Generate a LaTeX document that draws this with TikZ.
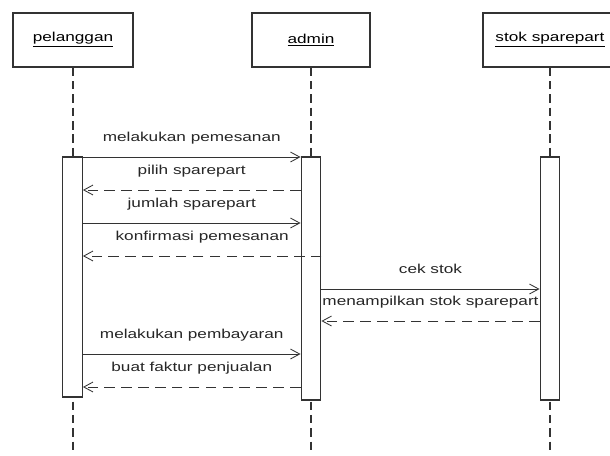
\documentclass[tikz,border=0pt]{standalone}
\usepackage{fontspec}
\setmainfont{Liberation Sans}[FakeStretch=1.33]
\usetikzlibrary{positioning,calc,arrows.meta}
\definecolor{linegray}{rgb}{0.2,0.2,0.2}

\tikzset{
	head/.style={draw=linegray, line width=0.9pt, minimum width=3cm, minimum height=1.35cm, font=\fontsize{9.2}{11}\selectfont},
	act/.style={draw=linegray, fill=white, line width=0.9pt, minimum width=0.49cm, inner sep=0pt},
	life/.style={linegray, line width=0.8pt, dash pattern=on 6pt off 3.5pt},
	msg/.style={linegray, line width=0.6pt, -{Straight Barb[length=6.5pt,width=7pt]}},
	reply/.style={msg, dash pattern=on 7.5pt off 4.5pt},
	lbl/.style={midway, anchor=base, yshift=0.4cm, inner sep=0pt, text=black!85, font=\fontsize{9.2}{11}\selectfont}
}

\begin{document}
\begin{tikzpicture}[x=0.025cm, y=-0.025cm]
	\useasboundingbox (0,0) rectangle (610,455);
	\clip (0,0) rectangle (610,455);
	
	% objek
	\node[head] (pel) at (73,40) {\underline{pelanggan}};
	\node[head, minimum width=2.95cm] (adm) at (311,40) {\underline{admin}};
	\node[head, minimum width=3.35cm] (stok) at (550,40) {\underline{stok sparepart}};
	
	% lifeline
	\draw[life] (pel.south) -- (pel.south |- 0,455);
	\draw[life] (adm.south) -- (adm.south |- 0,455);
	\draw[life] (stok.south) -- (stok.south |- 0,455);
	
	% aktivasi
	\node[act, minimum height=6cm] (actP) at (72.5,277) {};
	\node[act, minimum height=6.075cm] (actA) at (311,278.5) {};
	\node[act, minimum height=6.075cm] (actS) at (550,278.5) {};
	
	% pesan
	\draw[msg] (actP.east |- 0,157) -- node[lbl] {melakukan pemesanan} (actA.west |- 0,157);
	\draw[reply] (actA.west |- 0,190) -- node[lbl] {pilih sparepart} (actP.east |- 0,190);
	\draw[msg] (actP.east |- 0,223) -- node[lbl] {jumlah sparepart} (actA.west |- 0,223);
	\draw[reply] (actA.east |- 0,256) -- node[lbl] {konfirmasi pemesanan} (actP.east |- 0,256);
	\draw[msg] (actA.east |- 0,289) -- node[lbl] {cek stok} (actS.west |- 0,289);
	\draw[reply] (actS.west |- 0,321) -- node[lbl] {menampilkan stok sparepart} (actA.east |- 0,321);
	\draw[msg] (actP.east |- 0,354) -- node[lbl] {melakukan pembayaran} (actA.west |- 0,354);
	\draw[reply] (actA.west |- 0,387) -- node[lbl] {buat faktur penjualan} (actP.east |- 0,387);
	
\end{tikzpicture}
\end{document}
